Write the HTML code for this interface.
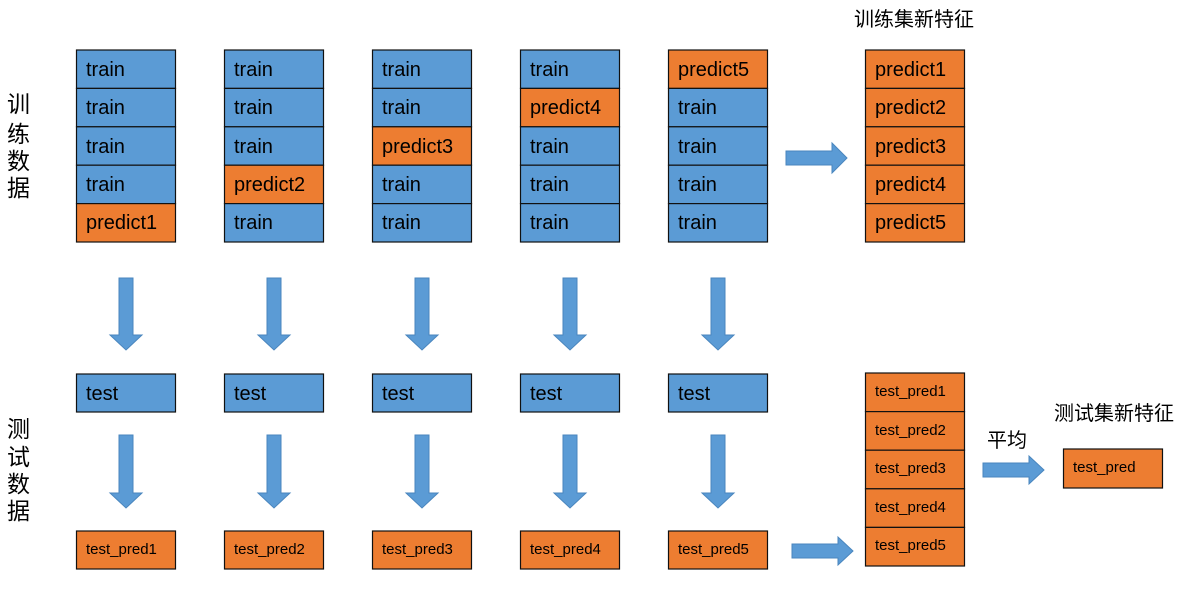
<!DOCTYPE html>
<html><head><meta charset="utf-8"><style>html,body{margin:0;padding:0;background:#fff}</style></head>
<body>
<svg width="1182" height="584" xmlns="http://www.w3.org/2000/svg" font-family="Liberation Sans, 'Noto Sans CJK SC', sans-serif">
<defs>
<g id="da"><path d="M119,278 H133 V335 H142 L126,350 L110,335 H119 Z" fill="#5B9BD5" stroke="#4A86BE" stroke-width="1"/></g>
<g id="da2"><path d="M119,435 H133 V493 H142 L126,508 L110,493 H119 Z" fill="#5B9BD5" stroke="#4A86BE" stroke-width="1"/></g>
</defs>
<g stroke="#111" stroke-width="1.2" font-size="20" fill="#000">
<g>
<rect x="76.5" y="50" width="99" height="38.4" fill="#5B9BD5"/><rect x="76.5" y="88.4" width="99" height="38.4" fill="#5B9BD5"/><rect x="76.5" y="126.8" width="99" height="38.4" fill="#5B9BD5"/><rect x="76.5" y="165.2" width="99" height="38.4" fill="#5B9BD5"/><rect x="76.5" y="203.6" width="99" height="38.4" fill="#ED7D31"/>
</g>
<g transform="translate(148,0)"><rect x="76.5" y="50" width="99" height="38.4" fill="#5B9BD5"/><rect x="76.5" y="88.4" width="99" height="38.4" fill="#5B9BD5"/><rect x="76.5" y="126.8" width="99" height="38.4" fill="#5B9BD5"/><rect x="76.5" y="165.2" width="99" height="38.4" fill="#ED7D31"/><rect x="76.5" y="203.6" width="99" height="38.4" fill="#5B9BD5"/></g>
<g transform="translate(296,0)"><rect x="76.5" y="50" width="99" height="38.4" fill="#5B9BD5"/><rect x="76.5" y="88.4" width="99" height="38.4" fill="#5B9BD5"/><rect x="76.5" y="126.8" width="99" height="38.4" fill="#ED7D31"/><rect x="76.5" y="165.2" width="99" height="38.4" fill="#5B9BD5"/><rect x="76.5" y="203.6" width="99" height="38.4" fill="#5B9BD5"/></g>
<g transform="translate(444,0)"><rect x="76.5" y="50" width="99" height="38.4" fill="#5B9BD5"/><rect x="76.5" y="88.4" width="99" height="38.4" fill="#ED7D31"/><rect x="76.5" y="126.8" width="99" height="38.4" fill="#5B9BD5"/><rect x="76.5" y="165.2" width="99" height="38.4" fill="#5B9BD5"/><rect x="76.5" y="203.6" width="99" height="38.4" fill="#5B9BD5"/></g>
<g transform="translate(592,0)"><rect x="76.5" y="50" width="99" height="38.4" fill="#ED7D31"/><rect x="76.5" y="88.4" width="99" height="38.4" fill="#5B9BD5"/><rect x="76.5" y="126.8" width="99" height="38.4" fill="#5B9BD5"/><rect x="76.5" y="165.2" width="99" height="38.4" fill="#5B9BD5"/><rect x="76.5" y="203.6" width="99" height="38.4" fill="#5B9BD5"/></g>
<g transform="translate(789,0)" fill="#ED7D31"><rect x="76.5" y="50" width="99" height="38.4"/><rect x="76.5" y="88.4" width="99" height="38.4"/><rect x="76.5" y="126.8" width="99" height="38.4"/><rect x="76.5" y="165.2" width="99" height="38.4"/><rect x="76.5" y="203.6" width="99" height="38.4"/></g>
<rect x="76.5" y="374" width="99" height="38" fill="#5B9BD5"/><rect x="224.5" y="374" width="99" height="38" fill="#5B9BD5"/><rect x="372.5" y="374" width="99" height="38" fill="#5B9BD5"/><rect x="520.5" y="374" width="99" height="38" fill="#5B9BD5"/><rect x="668.5" y="374" width="99" height="38" fill="#5B9BD5"/>
<g fill="#ED7D31">
<rect x="76.5" y="531" width="99" height="38"/><rect x="224.5" y="531" width="99" height="38"/><rect x="372.5" y="531" width="99" height="38"/><rect x="520.5" y="531" width="99" height="38"/><rect x="668.5" y="531" width="99" height="38"/>
<rect x="865.5" y="373" width="99" height="38.6"/><rect x="865.5" y="411.6" width="99" height="38.6"/><rect x="865.5" y="450.2" width="99" height="38.6"/><rect x="865.5" y="488.8" width="99" height="38.6"/><rect x="865.5" y="527.4" width="99" height="38.6"/>
<rect x="1063.5" y="449" width="99" height="39"/>
</g>
</g>
<g font-size="20" fill="#000">
<text x="86" y="76">train</text><text x="86" y="114">train</text><text x="86" y="153">train</text><text x="86" y="191">train</text><text x="86" y="229">predict1</text>
<text x="234" y="76">train</text><text x="234" y="114">train</text><text x="234" y="153">train</text><text x="234" y="191">predict2</text><text x="234" y="229">train</text>
<text x="382" y="76">train</text><text x="382" y="114">train</text><text x="382" y="153">predict3</text><text x="382" y="191">train</text><text x="382" y="229">train</text>
<text x="530" y="76">train</text><text x="530" y="114">predict4</text><text x="530" y="153">train</text><text x="530" y="191">train</text><text x="530" y="229">train</text>
<text x="678" y="76">predict5</text><text x="678" y="114">train</text><text x="678" y="153">train</text><text x="678" y="191">train</text><text x="678" y="229">train</text>
<text x="875" y="76">predict1</text><text x="875" y="114">predict2</text><text x="875" y="153">predict3</text><text x="875" y="191">predict4</text><text x="875" y="229">predict5</text>
<text x="86" y="400">test</text><text x="234" y="400">test</text><text x="382" y="400">test</text><text x="530" y="400">test</text><text x="678" y="400">test</text>
</g>
<g font-size="15" fill="#000">
<text x="86" y="554">test_pred1</text><text x="234" y="554">test_pred2</text><text x="382" y="554">test_pred3</text><text x="530" y="554">test_pred4</text><text x="678" y="554">test_pred5</text>
<text x="875" y="396">test_pred1</text><text x="875" y="435">test_pred2</text><text x="875" y="473">test_pred3</text><text x="875" y="512">test_pred4</text><text x="875" y="550">test_pred5</text>
<text x="1073" y="472">test_pred</text>
</g>
<g font-size="20" fill="#000" font-family="'Noto Sans CJK SC', sans-serif">
<text x="854" y="26">训练集新特征</text>
<text x="1054" y="420">测试集新特征</text>
<text x="987" y="447">平均</text>
</g>
<g font-size="23" fill="#000" font-family="'Noto Sans CJK SC', sans-serif">
<text x="7" y="112">训</text><text x="7" y="142">练</text><text x="7" y="169">数</text><text x="7" y="196">据</text>
<text x="7" y="437">测</text><text x="7" y="465">试</text><text x="7" y="492">数</text><text x="7" y="519">据</text>
</g>
<use href="#da"/><use href="#da" x="148"/><use href="#da" x="296"/><use href="#da" x="444"/><use href="#da" x="592"/>
<use href="#da2"/><use href="#da2" x="148"/><use href="#da2" x="296"/><use href="#da2" x="444"/><use href="#da2" x="592"/>
<g fill="#5B9BD5" stroke="#4A86BE" stroke-width="1">
<path d="M786,151 H832 V143 L847,158 L832,173 V165 H786 Z"/>
<path d="M792,544 H838 V537 L853,551 L838,565 V558 H792 Z"/>
<path d="M983,463 H1029 V456 L1044,470 L1029,484 V477 H983 Z"/>
</g>
</svg>
</body></html>
